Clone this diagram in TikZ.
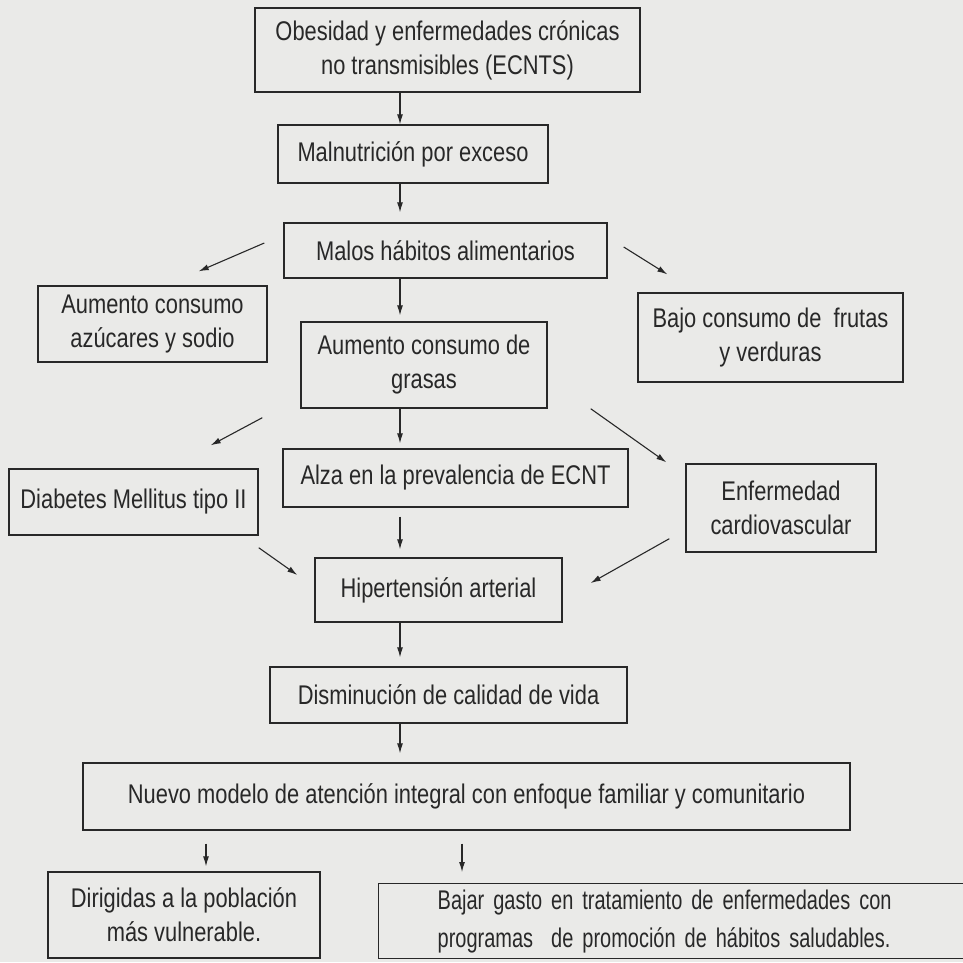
\documentclass[tikz,border=0pt]{standalone}
\usepackage{fontspec}
\setmainfont{Liberation Sans}[FakeStretch=0.81]
\newfontfamily\estrecha{Liberation Sans}[FakeStretch=0.74]
\usepackage{tikz}
\usetikzlibrary{arrows.meta,calc}
\definecolor{papel}{RGB}{234,234,232}
\definecolor{tinta}{RGB}{40,40,40}

\begin{document}
\begin{tikzpicture}[x=1pt,y=-1pt,
  caja/.style={draw=tinta,line width=1.4pt,text=tinta,align=center,inner sep=0pt,
    font=\fontsize{27}{34}\selectfont},
  flecha/.style={draw=tinta,line width=1.1pt,-{Latex[length=10pt,width=6pt]}}]
\clip (0,0) rectangle (963,962);
\fill[papel] (0,0) rectangle (963,962);
\coordinate (eje) at (400,0);
\node[caja,minimum width=385,minimum height=84] (ecnts) at (447.5,50) {Obesidad y enfermedades crónicas\\no transmisibles (ECNTS)};
\node[caja,minimum width=270,minimum height=58] (malnut) at (413,154) {Malnutrición por exceso};
\node[caja,minimum width=323,minimum height=55] (malos) at (445.5,250.5) {Malos hábitos alimentarios};
\node[caja,minimum width=229,minimum height=76] (azucar) at (152.5,324) {Aumento consumo\\azúcares y sodio};
\node[caja,minimum width=246,minimum height=86] (grasas) at (424,365) {Aumento consumo de\\grasas};
\node[caja,minimum width=265,minimum height=89] (frutas) at (770.5,337.5) {Bajo consumo de~ frutas\\y verduras};
\node[caja,minimum width=345,minimum height=58] (alza) at (455.5,478) {Alza en la prevalencia de ECNT};
\node[caja,minimum width=249,minimum height=66] (diabetes) at (133.5,502) {Diabetes Mellitus tipo II};
\node[caja,minimum width=190,minimum height=88] (cardio) at (781,508) {Enfermedad\\cardiovascular};
\node[caja,minimum width=247,minimum height=64] (hiper) at (438.5,590) {Hipertensión arterial};
\node[caja,minimum width=357,minimum height=56] (calidad) at (448.5,695) {Disminución de calidad de vida};
\node[caja,minimum width=767,minimum height=67] (modelo) at (466.5,796.5) {Nuevo modelo de atención integral con enfoque familiar y comunitario};
\node[caja,minimum width=272,minimum height=86] (dirigidas) at (184,915) {Dirigidas a la población\\más vulnerable.};
\node[caja,anchor=north west,align=left,text width=494,inner xsep=59,minimum height=75,
  font=\estrecha\fontsize{27}{38}\selectfont] (bajar) at (378,883) {Bajar gasto en tratamiento de enfermedades con\\programas~ de promoción de hábitos saludables.};
% eje central
\draw[flecha] (ecnts.south -| eje) -- (malnut.north -| eje);
\draw[flecha,shorten >=10pt] (malnut.south -| eje) -- (malos.north -| eje);
\draw[flecha,shorten >=6pt] (malos.south -| eje) -- (grasas.north -| eje);
\draw[flecha,shorten >=5pt] (grasas.south -| eje) -- (alza.north -| eje);
\draw[flecha,shorten <=9pt,shorten >=8pt] (alza.south -| eje) -- (hiper.north -| eje);
\draw[flecha,shorten >=9pt] (hiper.south -| eje) -- (calidad.north -| eje);
\draw[flecha,shorten >=9pt] (calidad.south -| eje) -- (modelo.north -| eje);
% ramas
\draw[flecha] ([shift={(-19,-7.5)}]malos.west) -- ([shift={(-69,-14)}]azucar.north east);
\draw[flecha] ([shift={(16,-3.5)}]malos.east) -- ([shift={(30,-18)}]frutas.north west);
\draw[flecha] ([shift={(-38,9)}]grasas.south west) -- ([shift={(-48,-23)}]diabetes.north east);
\draw[flecha] ([shift={(43,0)}]grasas.south east) -- ([shift={(-19,-1)}]cardio.north west);
\draw[flecha] ([shift={(0,12)}]diabetes.south east) -- ([shift={(-17,-15)}]hiper.west);
\draw[flecha] ([shift={(-16,-14)}]cardio.south west) -- ([shift={(28,-7)}]hiper.east);
% salidas del modelo
\coordinate (izq) at ([xshift=22pt]dirigidas.north);
\coordinate (der) at ([xshift=84pt]bajar.north west);
\draw[flecha,shorten <=13pt,shorten >=5pt] (izq |- modelo.south) -- (izq);
\draw[flecha,shorten <=13pt,shorten >=11pt] (der |- modelo.south) -- (der);
\end{tikzpicture}
\end{document}
